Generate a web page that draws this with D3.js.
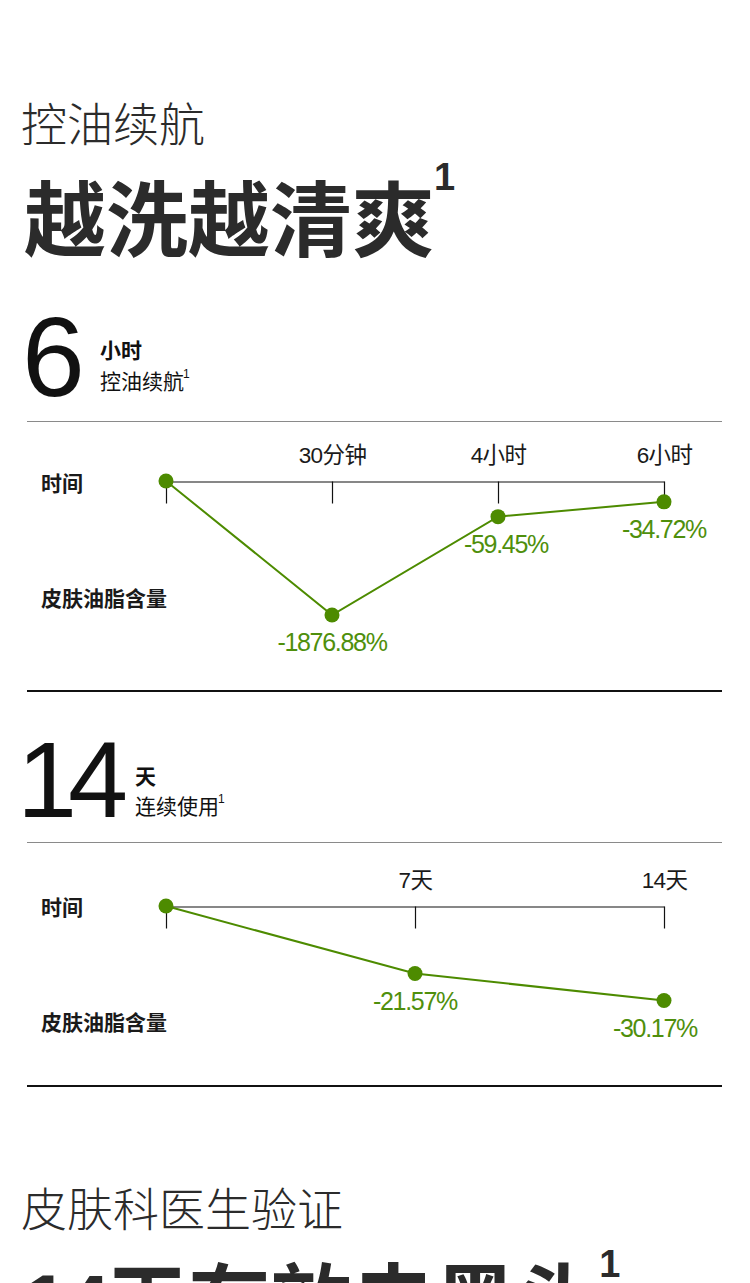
<!DOCTYPE html>
<html>
<head>
<meta charset="utf-8">
<script src="https://cdn.jsdelivr.net/npm/d3@7/dist/d3.min.js"></script>
<style>
  html, body { margin: 0; padding: 0; background: #fff; }
  svg { display: block; }
</style>
</head>
<body>
<script>
// ---- data ----
const chart1Times = ["0", "30分钟", "4小时", "6小时"];
const chart1TickLabels = ["", "30分钟", "4小时", "6小时"];
const chart1Values = [0, -1876.88, -59.45, -34.72];

const chart2Times = ["0", "7天", "14天"];
const chart2TickLabels = ["", "7天", "14天"];
const chart2Values = [0, -21.57, -30.17];

// ---- styles ----
const W = 750, H = 1283;
const LATIN = "'Liberation Sans', Arial, 'Noto Sans CJK SC', sans-serif";
const CJK = "'Noto Sans CJK SC', 'Liberation Sans', sans-serif";
const GREEN = "#4d8b00";
const GREEN_TEXT = "#4f8f0c";
const DARK = "#2b2b2b";

const svg = d3.select("body").append("svg")
  .attr("width", W).attr("height", H)
  .attr("viewBox", `0 0 ${W} ${H}`);

svg.append("rect").attr("width", W).attr("height", H).attr("fill", "#fff");

function txt(x, y, s, size, weight, fill, family, anchor) {
  return svg.append("text")
    .attr("x", x).attr("y", y)
    .attr("font-family", family || CJK)
    .attr("font-size", size)
    .attr("font-weight", weight || 400)
    .attr("fill", fill || DARK)
    .attr("text-anchor", anchor || "start")
    .text(s);
}
function withSup(x, y, s, size, weight, fill, supSize, supDy, supWeight, supDx) {
  const t = txt(x, y, s, size, weight, fill);
  const len = t.node().getComputedTextLength();
  txt(x + len + (supDx || 0), y + supDy, "1", supSize, supWeight || weight, fill, LATIN);
  return t;
}

// ---- header ----
txt(21, 141, "控油续航", 46, 300, DARK);
withSup(24, 250, "越洗越清爽", 82, 700, DARK, 38, -60, 700, 0);

// ---- section 1 header ----
txt(22, 396, "6", 113, 400, "#111", LATIN);
txt(100, 358, "小时", 21, 700, "#111");
withSup(100, 389, "控油续航", 21, 400, "#111", 12, -11, 400, -1);

svg.append("line").attr("x1", 27).attr("x2", 722).attr("y1", 421.5).attr("y2", 421.5)
  .attr("stroke", "#8a8a8a").attr("stroke-width", 1);

// ---- section 2 header ----
txt(17, 817, "14", 108, 400, "#111", LATIN).attr("letter-spacing", -9);
txt(135, 784, "天", 21, 700, "#111");
withSup(135, 814, "连续使用", 21, 400, "#111", 12, -11, 400, -1);

svg.append("line").attr("x1", 27).attr("x2", 722).attr("y1", 842.5).attr("y2", 842.5)
  .attr("stroke", "#8a8a8a").attr("stroke-width", 1);

// ---- chart drawer ----
function drawChart(opts) {
  const { times, tickLabels, values, axisY, y, rowTop, rowBottom, labelNudge } = opts;
  const x = d3.scalePoint().domain(times).range([166, 664]);

  // row labels
  txt(41, rowTop, "时间", 21, 700, "#1a1a1a");
  txt(41, rowBottom, "皮肤油脂含量", 21, 700, "#1a1a1a");

  // axis: line with downward ticks, labels above
  const g = svg.append("g").attr("transform", `translate(0,${axisY})`);
  g.call(d3.axisBottom(x).tickSizeInner(22).tickSizeOuter(0)
    .tickFormat((d, i) => tickLabels[i]));
  g.select(".domain").attr("stroke", "#111").attr("stroke-width", 1.2);
  g.selectAll(".tick line").attr("stroke", "#111").attr("stroke-width", 1.2);
  g.selectAll(".tick text")
    .attr("y", -19).attr("dy", 0)
    .attr("font-family", LATIN)
    .attr("font-size", 22.5)
    .attr("fill", "#1a1a1a")
    .attr("letter-spacing", -0.6);

  // line
  const pts = times.map((t, i) => [x(t), y(values[i])]);
  svg.append("path")
    .attr("d", d3.line()(pts))
    .attr("fill", "none")
    .attr("stroke", GREEN)
    .attr("stroke-width", 2);

  svg.selectAll(null).data(values).enter().append("circle")
    .attr("cx", (d, i) => x(times[i]))
    .attr("cy", d => y(d))
    .attr("r", 7.5)
    .attr("fill", GREEN);

  svg.selectAll(null).data(values.slice(1)).enter().append("text")
    .attr("x", (d, i) => x(times[i + 1]) + labelNudge[i])
    .attr("y", d => y(d) + 36)
    .attr("text-anchor", "middle")
    .attr("font-family", LATIN)
    .attr("font-size", 25)
    .attr("letter-spacing", -1.3)
    .attr("fill", GREEN_TEXT)
    .text(d => d.toFixed(2) + "%");
}

// chart 1: broken (two-segment) value axis so the large drop and the small ones both fit
const y1 = d3.scaleLinear()
  .domain([0, -60, d3.min(chart1Values)])
  .range([481, 517, 615]);
drawChart({
  times: chart1Times, tickLabels: chart1TickLabels, values: chart1Values,
  axisY: 481.5, y: y1, rowTop: 491, rowBottom: 606, labelNudge: [0, 8, 0]
});

svg.append("line").attr("x1", 27).attr("x2", 722).attr("y1", 691).attr("y2", 691)
  .attr("stroke", "#111").attr("stroke-width", 2);

// chart 2
const y2 = d3.scaleLinear()
  .domain([0, d3.min(chart2Values)])
  .range([906, 1000.5]);
drawChart({
  times: chart2Times, tickLabels: chart2TickLabels, values: chart2Values,
  axisY: 906.5, y: y2, rowTop: 915, rowBottom: 1030, labelNudge: [0, -9]
});

svg.append("line").attr("x1", 27).attr("x2", 722).attr("y1", 1086).attr("y2", 1086)
  .attr("stroke", "#111").attr("stroke-width", 2);

// ---- bottom section ----
txt(21, 1226, "皮肤科医生验证", 46, 300, DARK);
const big = txt(23, 1332, "", 82, 700, DARK);
big.append("tspan").attr("font-family", LATIN).attr("letter-spacing", -4).text("14");
big.append("tspan").text("天有效去黑头");
const bigLen = big.node().getComputedTextLength();
txt(23 + bigLen + 1, 1277, "1", 38, 700, DARK, LATIN);
</script>
</body>
</html>
